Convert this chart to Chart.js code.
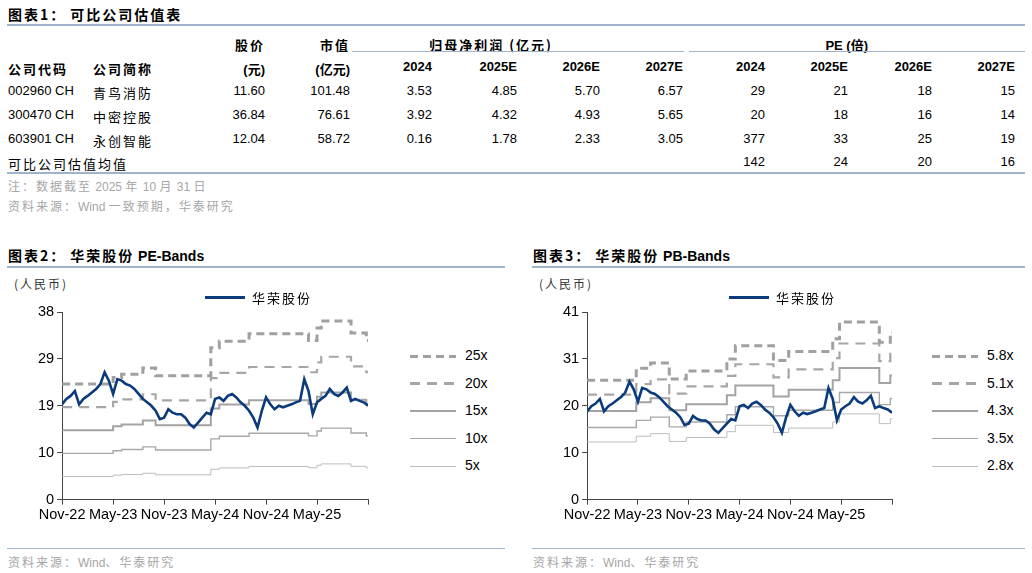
<!DOCTYPE html>
<html><head><meta charset="utf-8">
<script src="https://cdn.jsdelivr.net/npm/chart.js@4.4.1/dist/chart.umd.min.js"></script>
<style>
body{margin:0;width:1032px;height:573px;position:relative;font-family:"Liberation Sans",Arial,"Noto Sans CJK SC",sans-serif;background:#fff;color:#000;overflow:hidden}
.a{position:absolute;white-space:nowrap}
.t{font-weight:bold;font-size:14px}
.hl{position:absolute;height:1px;background:#9fb4cc}
.r{text-align:right}
.cell{position:absolute;font-size:13px;white-space:nowrap}
.b{font-weight:bold}
.note{color:#a6a6a6;font-size:12px}
.cjk{font-family:"Noto Sans CJK SC",sans-serif;letter-spacing:2px}
.lg{position:absolute;font-size:14px}
.box{position:absolute}
</style></head><body>
<div class="a t" style="left:8px;top:4px"><span class="cjk">图表1：</span> <span class="cjk">可比公司估值表</span></div>
<div class="hl" style="left:7px;top:24px;width:1018px;height:2px"></div>
<div id="tbl"></div>
<div class="hl" style="left:7px;top:172px;width:1018px;height:2px"></div>
<div class="a note" style="left:8px;top:177px"><span class="cjk">注：数据截至</span> 2025 <span class="cjk">年</span> 10 <span class="cjk">月</span> 31 <span class="cjk">日</span></div>
<div class="a note" style="left:8px;top:197px"><span class="cjk">资料来源：</span>Wind <span class="cjk">一致预期，华泰研究</span></div>

<div class="a t" style="left:8px;top:245px"><span class="cjk">图表2：</span> <span class="cjk">华荣股份</span> PE-Bands</div>
<div class="hl" style="left:7px;top:266px;width:498px;height:2px"></div>
<div class="a t" style="left:533px;top:245px"><span class="cjk">图表3：</span> <span class="cjk">华荣股份</span> PB-Bands</div>
<div class="hl" style="left:532px;top:266px;width:493px;height:2px"></div>
<div class="a note cjk" style="left:14px;top:275px;color:#333">(人民币)</div>
<div class="a note cjk" style="left:539px;top:275px;color:#333">(人民币)</div>
<div class="box" style="left:35px;top:300px;width:339px;height:226px"><canvas id="c1"></canvas></div>
<div class="box" style="left:560px;top:300px;width:338px;height:226px"><canvas id="c2"></canvas></div>
<div id="lg1"></div><div id="lg2"></div>
<div class="hl" style="left:7px;top:548px;width:498px"></div>
<div class="hl" style="left:532px;top:548px;width:493px"></div>
<div class="a note" style="left:8px;top:553px"><span class="cjk">资料来源：</span>Wind<span class="cjk">、华泰研究</span></div>
<div class="a note" style="left:533px;top:553px"><span class="cjk">资料来源：</span>Wind<span class="cjk">、华泰研究</span></div>
<script>
// ---- table data ----
const codes = ["002960 CH", "300470 CH", "603901 CH"];
const names = ["青鸟消防", "中密控股", "永创智能"];
const prices = ["11.60", "36.84", "12.04"];
const caps = ["101.48", "76.61", "58.72"];
const years = ["2024", "2025E", "2026E", "2027E"];
const profits = [["3.53","4.85","5.70","6.57"],["3.92","4.32","4.93","5.65"],["0.16","1.78","2.33","3.05"]];
const pes = [["29","21","18","15"],["20","18","16","14"],["377","33","25","19"]];
const peMean = ["142","24","20","16"];

// ---- chart data ----
const xTickLabels = ["Nov-22", "May-23", "Nov-23", "May-24", "Nov-24", "May-25", ""];
const peTickLabels = ["0", "10", "19", "29", "38"];
const pbTickLabels = ["0", "10", "20", "31", "41"];
// share price, one value per half month from Nov-22
const price = [19.3,20.4,21,22,19.3,20.4,21,21.7,22.4,23.4,25.8,24.1,21.4,24.4,24.1,23.4,23.1,22.4,21.4,20.4,19.7,19,18,16.3,
  16.6,18.3,17.6,17.3,17.3,16.6,15.3,14.6,15.6,16.6,17.6,17.3,20.4,20.7,20,21,21.4,20.7,19.7,19,18,16.6,14.6,18,
  20.7,19.3,18.3,19,18.7,19,19.3,19.7,20,24.4,22,17.3,19.7,20.4,21,22.4,21.4,21,21.7,22.7,20,20.4,20,19.7,19];
const epsBreaks = [0, 6, 7, 9.5, 11, 17.5, 18.5, 22, 29, 30, 30.5, 34, 35.8, 36];
const epsVals = [0.936, 0.99, 1.015, 1.067, 1.004, 1.23, 1.284, 1.343, 1.29, 1.39, 1.447, 1.349, 1.29, 1.29];
const peMults = [25, 20, 15, 10, 5];
const bpsBreaks = [0, 5.8, 7.5, 9.7, 11.7, 16.5, 17.5, 22, 23.8, 29, 29.8, 34.5, 35.8, 36];
const bpsVals = [4.5, 4.95, 5.15, 4.54, 4.85, 5.3, 5.8, 5.24, 5.58, 6.06, 6.69, 5.93, 6.31, 6.31];
const pbMults = [5.8, 5.1, 4.3, 3.5, 2.8];

// build table
const tbl = document.getElementById("tbl");
function cell(txt, right, top, cls, left) {
  const d = document.createElement("div");
  d.className = "cell " + (cls || "");
  d.textContent = txt;
  d.style.top = top + "px";
  if (left !== undefined) d.style.left = left + "px";
  else { d.style.right = (1032 - right) + "px"; }
  tbl.appendChild(d);
}
const profitR = [432, 517, 600, 683], peR = [765, 848, 932, 1015];
cell("股价", 265, 35, "b cjk"); cell("市值", 350, 35, "b cjk");
cell("归母净利润 (亿元)", 553, 35, "b cjk");
cell("PE (倍)", 868, 35, "b");
tbl.insertAdjacentHTML("beforeend", '<div class="hl" style="left:352px;top:51px;width:332px"></div><div class="hl" style="left:689px;top:51px;width:336px"></div>');
cell("公司代码", 0, 59, "b cjk", 8); cell("公司简称", 0, 59, "b cjk", 93);
cell("(元)", 265, 59, "b"); cell("(亿元)", 350, 59, "b");
years.forEach((y, i) => { cell(y, profitR[i], 59, "b"); cell(y, peR[i], 59, "b"); });
codes.forEach((c, r) => {
  const top = 83 + r * 24;
  cell(c, 0, top, "", 8); cell(names[r], 0, top, "cjk", 93);
  cell(prices[r], 265, top); cell(caps[r], 350, top);
  profits[r].forEach((v, i) => cell(v, profitR[i], top));
  pes[r].forEach((v, i) => cell(v, peR[i], top));
});
cell("可比公司估值均值", 0, 154, "cjk", 8);
peMean.forEach((v, i) => cell(v, peR[i], 154));

// band styles
const bandStyle = [
  { color: "#a0a0a0", width: 3, dash: [8, 5] },
  { color: "#a6a6a6", width: 2.2, dash: [10, 7] },
  { color: "#a3a3a3", width: 2, dash: [] },
  { color: "#a8a8a8", width: 1.4, dash: [] },
  { color: "#bdbdbd", width: 1, dash: [] }
];
const priceColor = "#0b3b7c";

function makeChart(id, mults, breaks, vals, yMax, yLabels) {
  const datasets = [{
    data: price.map((v, i) => ({ x: i * 0.5, y: v })),
    borderColor: priceColor, borderWidth: 2.6, pointRadius: 0, tension: 0, order: 0
  }];
  mults.forEach((m, k) => {
    datasets.push({
      data: breaks.map((b, i) => ({ x: b, y: m * vals[i] })),
      stepped: "before", borderColor: bandStyle[k].color, borderWidth: bandStyle[k].width,
      borderDash: bandStyle[k].dash, pointRadius: 0, order: 1
    });
  });
  new Chart(document.getElementById(id), {
    type: "line",
    data: { datasets },
    options: {
      animation: false, responsive: true, maintainAspectRatio: false,
      layout: { padding: { top: 12, right: 6 } },
      plugins: { legend: { display: false }, tooltip: { enabled: false } },
      scales: {
        x: {
          type: "linear", min: 0, max: 36,
          ticks: { stepSize: 6, color: "#000", font: { size: 14.5, family: "Liberation Sans" },
            callback: (v) => xTickLabels[Math.round(v / 6)], maxRotation: 0, autoSkip: false, padding: 2 },
          grid: { drawOnChartArea: false, color: "#444", tickLength: 5 },
          border: { color: "#444" }
        },
        y: {
          min: 0, max: yMax,
          ticks: { stepSize: yMax / 4, color: "#000", font: { size: 14.5, family: "Liberation Sans" },
            callback: (v) => yLabels[Math.round(v / (yMax / 4))] },
          grid: { drawOnChartArea: false, color: "#444", tickLength: 5 },
          border: { color: "#444" }
        }
      }
    }
  });
}
makeChart("c1", peMults, epsBreaks, epsVals, 38, peTickLabels);
makeChart("c2", pbMults, bpsBreaks, bpsVals, 41, pbTickLabels);

// html legends
function legends(hostId, left, mults, topLegendLeft) {
  const host = document.getElementById(hostId);
  let h = `<div class="box" style="left:${topLegendLeft}px;top:296px;width:40px;height:3px;background:${priceColor}"></div>` +
    `<div class="lg cjk" style="left:${topLegendLeft + 47}px;top:288px;font-size:13px">华荣股份</div>`;
  mults.forEach((m, k) => {
    const s = bandStyle[k], top = 356 + k * 27.5;
    const bg = s.dash.length ? `repeating-linear-gradient(90deg,${s.color} 0 ${s.dash[0]}px,transparent ${s.dash[0]}px ${s.dash[0] + s.dash[1]}px)` : s.color;
    h += `<div class="box" style="left:${left}px;top:${top - s.width / 2}px;width:46px;height:${s.width}px;background:${bg}"></div>` +
      `<div class="lg" style="left:${left + 55}px;top:${top - 9}px">${m}x</div>`;
  });
  host.innerHTML = h;
}
legends("lg1", 410, peMults, 205);
legends("lg2", 932, pbMults, 729);
</script>
</body></html>
